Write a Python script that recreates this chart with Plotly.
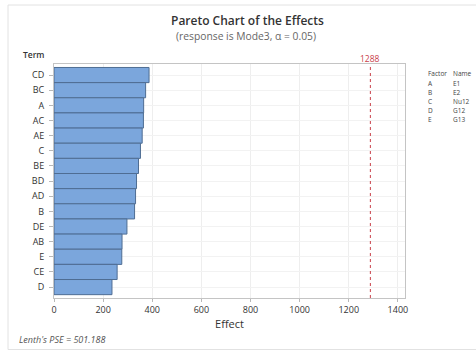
import plotly.graph_objects as go

# Standardized effects, largest first
terms = ["CD", "BC", "A", "AC", "AE", "C", "BE", "BD", "AD", "B", "DE", "AB", "E", "CE", "D"]
effects = [387, 373, 365, 364, 359, 352, 344, 336, 332, 328, 297, 277, 276, 257, 236]

critical_value = 1288
x_ticks = [0, 200, 400, 600, 800, 1000, 1200, 1400]

factor_codes = ["A", "B", "C", "D", "E"]
factor_names = ["E1", "E2", "Nu12", "G12", "G13"]

W, H = 476, 352
ML, MR, MT, MB = 54, 71, 64, 54
PW, PH = W - ML - MR, H - MT - MB


def px(x):
    return (x - ML) / PW


def py(y):
    return (H - MB - y) / PH


FONT = "Open Sans"
positions = list(range(len(terms)))

fig = go.Figure()
fig.add_trace(go.Bar(
    x=effects,
    y=positions,
    orientation="h",
    width=1.0,
    marker=dict(color="#7ba6dc", line=dict(color="#4f6d93", width=1)),
    hoverinfo="x",
))

fig.update_layout(
    width=W, height=H,
    margin=dict(l=ML, r=MR, t=MT, b=MB),
    paper_bgcolor="white",
    plot_bgcolor="white",
    showlegend=False,
    font=dict(family=FONT, size=9, color="#333333"),
    xaxis=dict(
        range=[0, 1429],
        tickvals=x_ticks,
        ticks="outside", ticklen=3, tickcolor="#b8b8b8",
        showgrid=True, gridcolor="#eeeeee", gridwidth=1,
        showline=True, linecolor="#c4c4c4", linewidth=1, mirror=True,
        zeroline=False,
        tickfont=dict(size=9, color="#333333"),
        title=dict(text="Effect", font=dict(size=11, color="#333333"), standoff=2),
    ),
    yaxis=dict(
        range=[14.72, -0.73],
        tickvals=positions,
        ticktext=terms,
        ticks="outside", ticklen=4, tickcolor="#b8b8b8",
        ticklabelstandoff=3,
        showgrid=True, gridcolor="#f2f2f2", gridwidth=1,
        showline=True, linecolor="#c4c4c4", linewidth=1, mirror=True,
        zeroline=False,
        tickfont=dict(size=9, color="#333333"),
    ),
)

# critical effect reference line
fig.add_shape(type="line", xref="x", yref="paper",
              x0=critical_value, x1=critical_value, y0=0, y1=1,
              line=dict(color="#c9404a", width=1, dash="dot"))

# outer frame
fig.add_shape(type="rect", xref="paper", yref="paper",
              x0=px(8), x1=px(490), y0=py(349.5), y1=py(5),
              line=dict(color="#e2e2e2", width=1), layer="below")

ann = []
ann.append(dict(text="Pareto Chart of the Effects", x=px(247), y=py(20),
                font=dict(size=12, color="#333333", weight=600)))
ann.append(dict(text="(response is Mode3, α = 0.05)", x=px(246), y=py(35.5),
                font=dict(size=10.3, color="#666666")))
ann.append(dict(text="Term", x=px(33), y=py(55),
                font=dict(size=8.5, color="#333333", weight=600)))
ann.append(dict(text=str(critical_value), x=critical_value, xref="x", y=py(58),
                font=dict(size=8.5, color="#c9404a")))
ann.append(dict(text="Lenth's PSE = 501.188", x=px(17), y=py(339), xanchor="left",
                font=dict(size=9, color="#555555", style="italic")))

ann.append(dict(text="Factor", x=px(426), y=py(74), xanchor="left",
                font=dict(size=6.5, color="#444444")))
ann.append(dict(text="Name", x=px(451), y=py(74), xanchor="left",
                font=dict(size=6.5, color="#444444")))
for i, (code, name) in enumerate(zip(factor_codes, factor_names)):
    yy = 83 + i * 9
    ann.append(dict(text=code, x=px(426), y=py(yy), xanchor="left",
                    font=dict(size=6.5, color="#444444")))
    ann.append(dict(text=name, x=px(451), y=py(yy), xanchor="left",
                    font=dict(size=6.5, color="#444444")))

for a in ann:
    a.setdefault("xref", "paper")
    a.setdefault("yref", "paper")
    a.setdefault("xanchor", "center")
    a["yanchor"] = "middle"
    a["showarrow"] = False
    fig.add_annotation(**a)

fig.write_html("out.html")
